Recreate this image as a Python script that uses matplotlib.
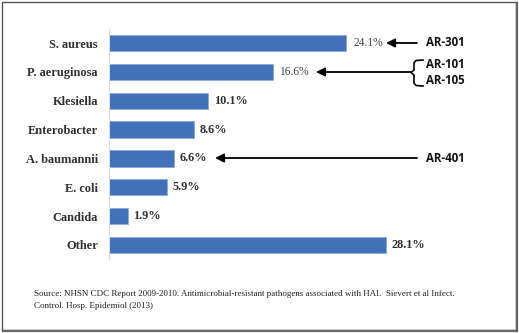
import matplotlib
matplotlib.use("Agg")
import matplotlib.pyplot as plt
from matplotlib.patches import Rectangle, FancyArrowPatch
from matplotlib.lines import Line2D

# Share of antimicrobial-resistant pathogens in HAI (%)
pathogens = ["S. aureus", "P. aeruginosa", "Klesiella", "Enterobacter",
             "A. baumannii", "E. coli", "Candida", "Other"]
shares = [24.1, 16.6, 10.1, 8.6, 6.6, 5.9, 1.9, 28.1]
value_labels = ["24.1%", "16.6%", "10.1%", "8.6%", "6.6%", "5.9%", "1.9%", "28.1%"]
callouts = ["AR-301", "AR-101", "AR-105", "AR-401"]
source_lines = [
    "Source: NHSN CDC Report 2009-2010. Antimicrobial-resistant pathogens associated with HAI.  Sievert et al Infect.",
    "Control. Hosp. Epidemiol (2013)",
]

W, H = 519, 333
fig = plt.figure(figsize=(W / 100, H / 100), dpi=100)
fig.patch.set_facecolor("white")


def fx(x):
    return x / W


def fy(y):
    return 1 - y / H


ax = fig.add_axes([109 / W, (H - 259.4) / H, 295.5 / W, 230.8 / H])
ypos = list(range(len(pathogens)))
ax.barh(ypos, shares, height=0.56, color="#4270B9", edgecolor="#8AA8DA",
        linewidth=0.6)
ax.set_xlim(0, 30)
ax.set_ylim(len(pathogens) - 0.5, -0.5)
ax.set_xticks([])
ax.set_yticks(ypos)
ax.set_yticklabels(pathogens, family="Liberation Serif", fontweight="bold",
                   fontsize=8.9, color="#303030")
ax.tick_params(axis="y", length=0, pad=8)
for s in ["top", "right", "bottom"]:
    ax.spines[s].set_visible(False)
ax.spines["left"].set_color("#DADADA")
ax.spines["left"].set_linewidth(0.8)

for i, (v, lab) in enumerate(zip(shares, value_labels)):
    plain = i in (0, 1)
    ax.annotate(lab, (v, i), xytext=(5 if plain else 4, 0),
                textcoords="offset points", va="center", ha="left",
                family="Liberation Serif",
                fontweight="normal" if plain else "bold",
                fontsize=8.3 if plain else 8.8,
                color="#444444" if plain else "#303030")

# Callout arrows (figure pixel positions, y measured from top)
arrow_kw = dict(arrowstyle="-|>", mutation_scale=13, lw=1.3, color="black",
                shrinkA=0, shrinkB=0)
for (x0, y0, x1) in [(417, 43, 386), (411, 72, 316), (417, 158, 215)]:
    fig.add_artist(FancyArrowPatch(
        (fx(x0), fy(y0)), (fx(x1), fy(y0)), transform=fig.transFigure,
        **arrow_kw))

# Curly bracket grouping AR-101 / AR-105
bx = [423, 416, 414, 414, 411, 414, 414, 416, 423]
by = [60, 60.5, 63, 70, 72.5, 75, 83, 85.5, 86]
fig.add_artist(Line2D([fx(x) for x in bx], [fy(y) for y in by],
                      transform=fig.transFigure, color="black", lw=1.2))

for text, y in zip(callouts, [43, 65, 80, 158]):
    fig.text(fx(426), fy(y), text, family="Open Sans", fontweight="bold",
             fontsize=8.3, va="center", ha="left", color="#111111")

for line, y in zip(source_lines, [294, 306]):
    fig.text(fx(34), fy(y), line, family="Liberation Serif", fontsize=6.45,
             va="center", ha="left", color="#222222")

# Framing border with a slight drop shadow on right and bottom
fig.add_artist(Rectangle((fx(2), fy(330)), fx(514), 328 / H,
                         transform=fig.transFigure, fill=False,
                         edgecolor="#555555", lw=1.0))
fig.add_artist(Line2D([fx(517), fx(517)], [fy(3), fy(331)],
                      transform=fig.transFigure, color="#666666", lw=1.6))
fig.add_artist(Line2D([fx(3), fx(517)], [fy(331), fy(331)],
                      transform=fig.transFigure, color="#666666", lw=1.6))

fig.savefig("out.png", dpi=100)
